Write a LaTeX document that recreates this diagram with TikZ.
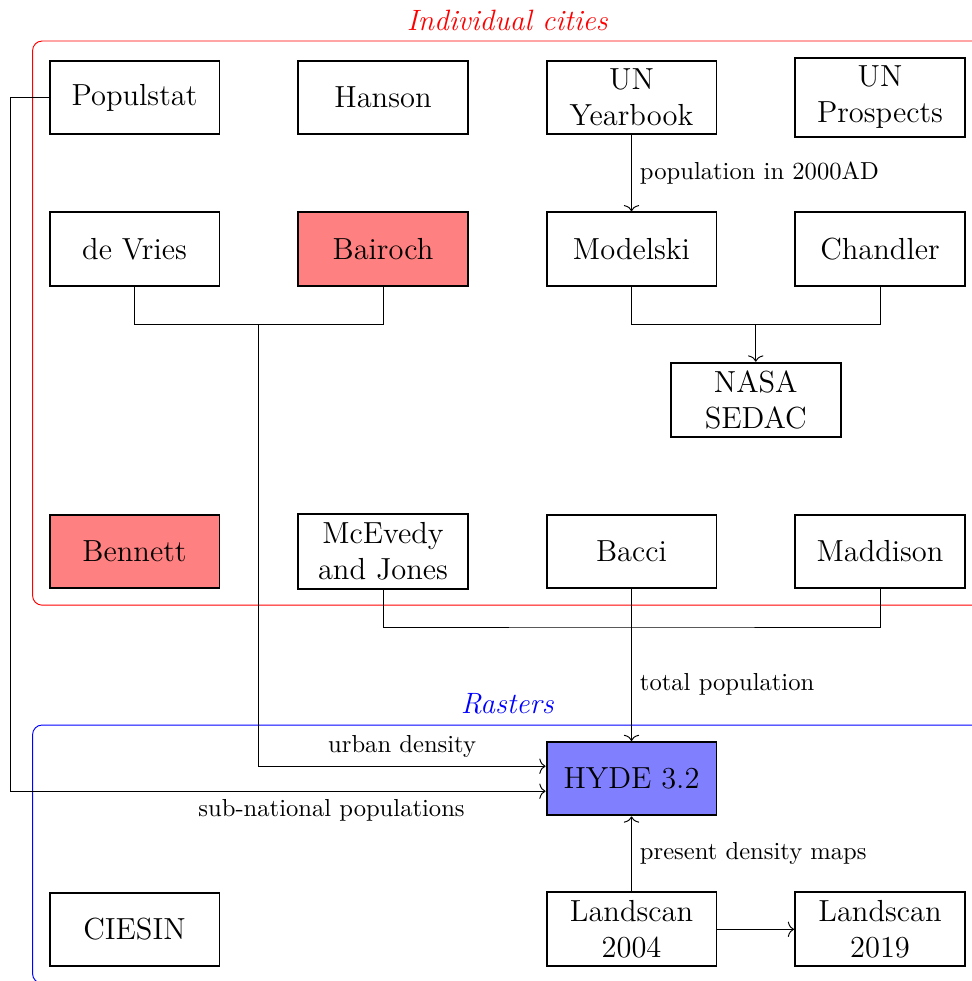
\documentclass[tikz,border=0pt]{standalone}
\usetikzlibrary{fit,calc,arrows.meta}
\begin{document}
\begin{tikzpicture}[x=0.41667pt,y=-0.41667pt,
  box/.style={draw, thick, minimum width=70.8pt, minimum height=30.6pt,
    inner xsep=4pt, inner ysep=3.4pt, align=center,
    font=\fontsize{12.7}{15}\selectfont},
  lbl/.style={font=\fontsize{10.25}{12}\selectfont},
  conn/.style={thin},
  arr/.style={-{To[length=2.6pt,width=6.4pt]}},
  grp/.style={draw, thin, rounded corners=4pt, inner sep=6.67pt},
  grptitle/.style={anchor=south, font=\fontsize{12.25}{15}\selectfont\itshape, inner sep=4pt}]
\useasboundingbox (0,0) rectangle (972,981);
% row 1
\node[box] (populstat) at (134.5,97.5) {Populstat};
\node[box] (hanson) at (383,97.5) {Hanson};
\node[box] (uny) at (631.5,97.5) {UN\\Yearbook};
\node[box] (unp) at (880,97.5) {UN\\Prospects};
% row 2
\node[box] (devries) at (134.5,249) {de Vries};
\node[box, fill=red!50] (bairoch) at (383,249) {Bairoch};
\node[box] (modelski) at (631.5,249) {Modelski};
\node[box] (chandler) at (880,249) {Chandler};
% row 3
\node[box] (nasa) at (755.75,400) {NASA\\SEDAC};
% row 4
\node[box, fill=red!50] (bennett) at (134.5,551.5) {Bennett};
\node[box] (mcevedy) at (383,551.5) {McEvedy\\and Jones};
\node[box] (bacci) at (631.5,551.5) {Bacci};
\node[box] (maddison) at (880,551.5) {Maddison};
% rasters
\node[box, fill=blue!50] (hyde) at (631.5,778.7) {HYDE 3.2};
\node[box] (ciesin) at (134.5,929.3) {CIESIN};
\node[box] (ls04) at (631.5,929.3) {Landscan\\2004};
\node[box] (ls19) at (880,929.3) {Landscan\\2019};
% groups
\node[grp, draw=red, fit=(populstat)(unp)(bennett)(maddison)] (cities) {};
\node[grptitle, text=red] (citiestitle) at (cities.north) {Individual cities};
\node[grp, draw=blue, fit=(hyde)(ciesin)(ls19)] (rasters) {};
\node[grptitle, text=blue] (rasterstitle) at (rasters.north) {Rasters};
% junctions
\coordinate (j1) at (258.75,324.3);
\coordinate (j2) at (755.75,324.3);
\coordinate (j3) at (631.5,627);
\coordinate (pl) at (10.5,97.5);
% connectors
\draw[conn,arr] (uny) -- (modelski) node[midway, right, lbl] {population in 2000AD};
\draw[conn] (modelski.south) |- (j2) -| (chandler.south);
\draw[conn,arr] (j2) -- (nasa);
\draw[conn] (devries.south) |- (j1) -| (bairoch.south);
\draw[conn,arr] (j1) |- ($(hyde.west)+(0,-12.5)$) node[pos=0.75, above, lbl] {urban density};
\draw[conn,arr] (populstat.west) -- (pl) |- ($(hyde.west)+(0,12.5)$) node[pos=0.8, below, lbl] {sub-national populations};
\draw[conn] (mcevedy.south) |- (j3) -| (maddison.south);
\draw[conn] (bacci.south) -- (j3);
\draw[conn,arr] (j3) -- (hyde) node[midway, right, lbl] {total population};
\draw[conn,arr] (ls04) -- (hyde) node[midway, right, lbl] {present density maps};
\draw[conn,arr] (ls04) -- (ls19);
\end{tikzpicture}
\end{document}
